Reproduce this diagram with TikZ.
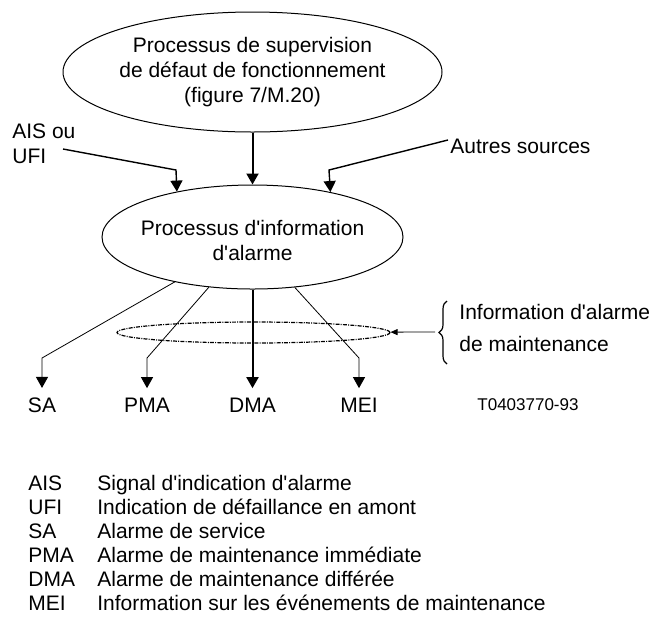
\documentclass[tikz,border=0pt]{standalone}
\usepackage{fontspec}
\setmainfont{Liberation Sans}
\usetikzlibrary{shapes.geometric,arrows.meta,decorations.pathreplacing}

\newcommand\apos{\textquotesingle}

\tikzset{
  txt/.style={font=\fontsize{10.5}{12.5}\selectfont, inner sep=0pt},
  procbox/.style={ellipse, draw, line width=0.5pt, inner sep=0pt},
  sigarrow/.style={-{Triangle[width=6pt,length=5.5pt]}},
}

\begin{document}
\begin{tikzpicture}[x=0.5pt, y=-0.5pt]
        \useasboundingbox (0,0) rectangle (656,622);

        % the two process ellipses
        \begin{scope}[every node/.style={procbox}]
          \node[minimum width=189.5pt, minimum height=60pt, align=center,
                font=\fontsize{10.5}{12.5}\selectfont] (sup) at (252.5,72)
                {Processus de supervision\\de d\'efaut de fonctionnement\\(figure 7/M.20)};
          \node[minimum width=150.5pt, minimum height=52pt] (info) at (252.5,237) {};
          \node[minimum width=136.5pt, minimum height=10.5pt, line width=0.6pt,
                dash pattern=on 2pt off 0.6pt on 0.5pt off 0.6pt] (maint) at (253.5,332.5) {};
        \end{scope}

        \begin{scope}[every node/.style={txt}]
          \node[align=center] (infotxt) at (252.5,240) {Processus d\apos information\\d\apos alarme};
          \node[align=left, anchor=west] (ais) at (12,144) {AIS ou\\UFI};
          \node[anchor=base west] (autres) at (450,153) {Autres sources};
          \node[align=left, anchor=west] (maintxt) at (459,328)
                {Information d\apos alarme\\[3.5pt]de maintenance};
          \node[anchor=base west, font=\fontsize{8.5}{10}\selectfont] (ref) at (477,410) {T0403770-93};
        \end{scope}

        % outputs
        \begin{scope}[every node/.style={txt, anchor=base, inner sep=4.5pt}]
          \node (sa)  at (42,412)    {SA};
          \node (pma) at (147,412)   {PMA};
          \node (dma) at (252.5,412) {DMA};
          \node (mei) at (359,412)   {MEI};
        \end{scope}

        \coordinate (aisin)    at (63,149);
        \coordinate (aisbend)  at (176,170);
        \coordinate (autin)    at (448,140);
        \coordinate (autbend)  at (329,170);
        \coordinate (sabend)   at (42,358);
        \coordinate (pmabend)  at (147,358);
        \coordinate (meibend)  at (359,358);
        \coordinate (brace)    at (435,332);

        % inputs
        \path (sup) edge[sigarrow, line width=1pt] (info);
        \draw[sigarrow, line width=0.7pt] (aisin) -- (aisbend) -- (info.149.5);
        \draw[sigarrow, line width=0.7pt] (autin) -- (autbend) -- (info.30.5);

        % outputs
        \path (info) edge[sigarrow, line width=1pt] (dma);
        \draw[sigarrow, line width=0.4pt] (info.210) -- (sabend) -- (sa);
        \draw[sigarrow, line width=0.4pt] (info.229.4) -- (pmabend) -- (pma);
        \draw[sigarrow, line width=0.4pt] (info.310.6) -- (meibend) -- (mei);

        \draw[-{Triangle[width=3pt,length=3.5pt]}, line width=0.4pt] (brace) -- (maint);
        \draw[decorate, decoration={brace, amplitude=4pt}, line width=0.6pt] (447,364) -- (447,301);

        % legend
        \node[txt, anchor=base west, font=\fontsize{10.5}{12}\selectfont] (legend) at (28,490)
          {\begin{tabular}[t]{@{}p{34.5pt}@{}l@{}}
            AIS & Signal d\apos indication d\apos alarme\\
            UFI & Indication de d\'efaillance en amont\\
            SA  & Alarme de service\\
            PMA & Alarme de maintenance imm\'ediate\\
            DMA & Alarme de maintenance diff\'er\'ee\\
            MEI & Information sur les \'ev\'enements de maintenance
          \end{tabular}};
      \end{tikzpicture}
\end{document}
